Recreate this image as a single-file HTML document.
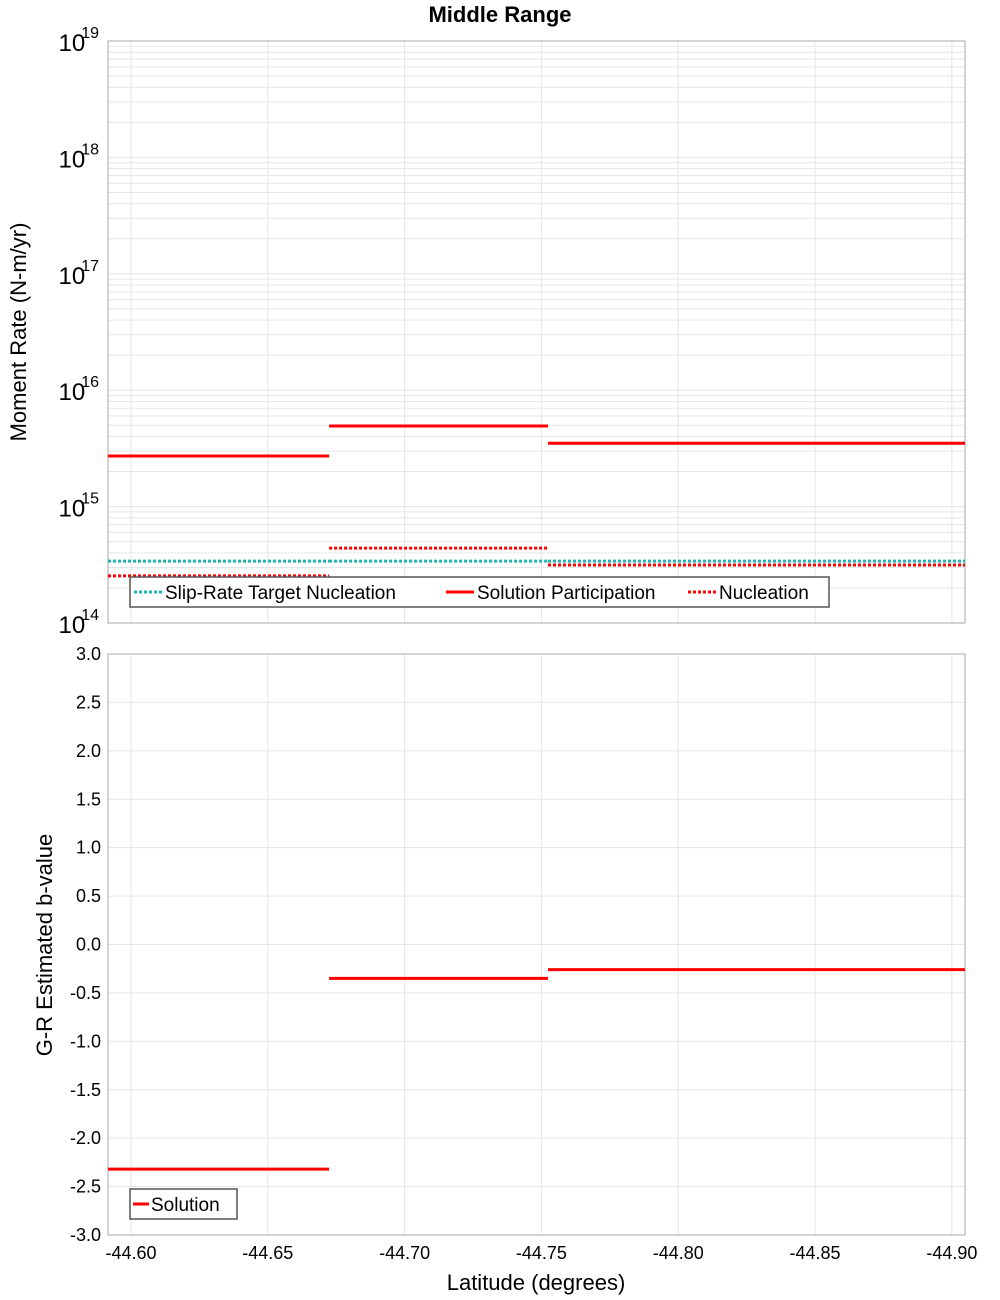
<!DOCTYPE html>
<html><head><meta charset="utf-8"><style>
body{margin:0;background:#fff;}
svg{font-family:"Liberation Sans","DejaVu Sans",sans-serif;display:block}
</style></head><body>
<svg id="chart" width="1000" height="1300" viewBox="0 0 1000 1300" xmlns="http://www.w3.org/2000/svg">
<text x="500" y="22" text-anchor="middle" font-size="22" font-weight="bold">Middle Range</text>
<g id="topPanel"></g><g id="botPanel"></g>
</svg>
<script>
const segEdges = [-44.5916, -44.6724, -44.7524, -44.9048];
const participation = [2.72e15, 4.93e15, 3.5e15];
const nucleation = [2.54e14, 4.4e14, 3.15e14];
const targetNucleation = [3.4e14, 3.4e14, 3.4e14];
const bValues = [-2.32, -0.35, -0.26];
const xTicks = [-44.60, -44.65, -44.70, -44.75, -44.80, -44.85, -44.90];
const yTicksB = [3.0,2.5,2.0,1.5,1.0,0.5,0.0,-0.5,-1.0,-1.5,-2.0,-2.5,-3.0];
const logExps = [14,15,16,17,18,19];

const NS="http://www.w3.org/2000/svg";
const L=108,R=965;
const xS=v=>L+(v-segEdges[0])/(segEdges[3]-segEdges[0])*(R-L);
const T1=41,B1=623,T2=654,B2=1235;
const yLog=v=>B1-(Math.log10(v)-14)/5*(B1-T1);
const yLin=v=>B2-(v+3)/6*(B2-T2);
function mk(p,tag,at,txt){const e=document.createElementNS(NS,tag);for(const k in at)e.setAttribute(k,at[k]);if(txt!=null)e.textContent=txt;p.appendChild(e);return e;}
const topG=document.getElementById('topPanel'),botG=document.getElementById('botPanel');

for(let e=14;e<19;e++)for(let m=1;m<10;m++){const y=yLog(m*Math.pow(10,e));
 const g=mk(topG,'line',{x1:L,x2:R,y1:y,y2:y,stroke:'#e6e6e6','stroke-width':1});
 
 }
for(const t of xTicks){for(const [p,a,b] of [[topG,T1,B1],[botG,T2,B2]]){const x=xS(t);
 const g=mk(p,'line',{x1:x,x2:x,y1:a,y2:b,stroke:'#e6e6e6','stroke-width':1});
 
 }}
for(const t of yTicksB){const y=yLin(t);
 const g=mk(botG,'line',{x1:L,x2:R,y1:y,y2:y,stroke:'#e6e6e6','stroke-width':1});
 
 }

let f=mk(topG,'rect',{x:L,y:T1,width:R-L,height:B1-T1,fill:'none',stroke:'#aaa'});


f=mk(botG,'rect',{x:L,y:T2,width:R-L,height:B2-T2,fill:'none',stroke:'#aaa'});



for(const e of logExps){const y=yLog(Math.pow(10,e));
 const t=mk(topG,'text',{x:99,y:y+10,'text-anchor':'end','font-size':24});
 
 
 mk(t,'tspan',{},'10');mk(t,'tspan',{dy:-13,'font-size':16,dx:-4},String(e));}
for(const v of yTicksB){const t=mk(botG,'text',{x:101,y:yLin(v)+6,'text-anchor':'end','font-size':18},v.toFixed(1));
 
 }
for(const v of xTicks){const t=mk(botG,'text',{x:xS(v),y:1259,'text-anchor':'middle','font-size':18},v.toFixed(2));
 
 }

let a=mk(topG,'text',{x:26,y:332,'text-anchor':'middle','font-size':22,transform:'rotate(-90 26 332)'},'Moment Rate (N-m/yr)');


a=mk(botG,'text',{x:52,y:945,'text-anchor':'middle','font-size':22,transform:'rotate(-90 52 945)'},'G-R Estimated b-value');


a=mk(botG,'text',{x:536,y:1290,'text-anchor':'middle','font-size':22},'Latitude (degrees)');



function seg(p,vals,yf,color,dash,name){for(let i=0;i<vals.length;i++){const y=yf(vals[i]);
 const at={x1:xS(segEdges[i]),x2:xS(segEdges[i+1]),y1:y,y2:y,stroke:color,'stroke-width':3};
 if(dash)at['stroke-dasharray']=dash;
 const l=mk(p,'line',at);
 
 }}
seg(topG,targetNucleation,yLog,'#22b5b5','3 2','target-nucleation-segment');
seg(topG,nucleation,yLog,'#ff0000','3 2','nucleation-segment');
seg(topG,participation,yLog,'#ff0000',null,'participation-segment');
seg(botG,bValues,yLin,'#ff0000',null,'b-value-segment');

let lg=mk(topG,'g',{});


mk(lg,'rect',{x:130,y:577,width:699,height:30,fill:'#fff',stroke:'#555','stroke-width':1.5});
const items=[['Slip-Rate Target Nucleation','#22b5b5','3 2',134],['Solution Participation','#ff0000',null,446],['Nucleation','#ff0000','3 2',688]];
for(const [txt,c,d,x] of items){const g=mk(lg,'g',{});
 
 
 const at={x1:x,x2:x+28,y1:592,y2:592,stroke:c,'stroke-width':3};if(d)at['stroke-dasharray']=d;mk(g,'line',at);
 mk(g,'text',{x:x+31,y:599,'font-size':19},txt);}
lg=mk(botG,'g',{});


mk(lg,'rect',{x:130,y:1189,width:107,height:30,fill:'#fff',stroke:'#555','stroke-width':1.5});
mk(lg,'line',{x1:133,x2:149,y1:1204,y2:1204,stroke:'#ff0000','stroke-width':3});
mk(lg,'text',{x:151,y:1211,'font-size':19},'Solution');
</script>
</body></html>
